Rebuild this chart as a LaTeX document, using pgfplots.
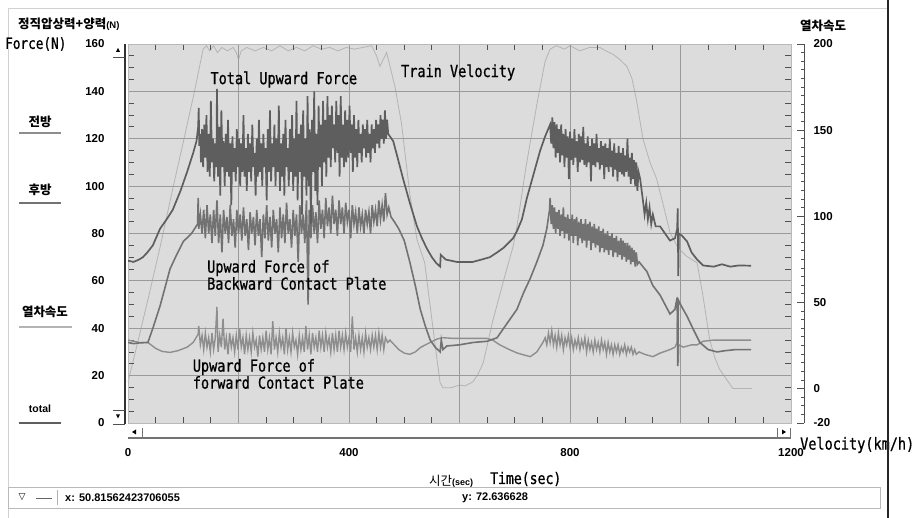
\documentclass[border=0pt]{standalone}
\usepackage{pgfplots}
\pgfplotsset{compat=1.18}
\usepackage{fontspec}
\setmainfont{Liberation Sans}
\newfontfamily\kr{Noto Sans CJK KR}
\newfontfamily\mono[FakeStretch=0.82,FakeBold=0.8]{DejaVu Sans Mono}
\newfontfamily\djsans{DejaVu Sans}
\definecolor{plotbg}{HTML}{DCDCDC}
\definecolor{gridc}{HTML}{9A9A9A}
\definecolor{totc}{HTML}{5E5E5E}
\definecolor{backc}{HTML}{727272}
\definecolor{forc}{HTML}{8E8E8E}
\definecolor{velc}{HTML}{B4B4B4}
\definecolor{tickc}{HTML}{505050}
\newcommand{\annfont}{\mono\fontsize{16.5}{15}\selectfont}
\newcommand{\tlfont}{\bfseries\fontsize{11.5}{12}\selectfont}
\begin{document}
\begin{tikzpicture}[x=1pt,y=1pt]
\useasboundingbox (0,0) rectangle (914,518);
% outer frame
\draw[gray!35, line width=0.8] (8,0) -- (8,510) -- (888,510);
% plot background
\fill[plotbg] (128,95) rectangle (791,474);
% velocity axis (right)
\begin{axis}[at={(128pt,95pt)}, anchor=south west, scale only axis,
  width=676pt, height=379pt,
  xmin=0, xmax=1223.5, ymin=-20, ymax=200,
  axis x line=none, axis y line*=right,
  y axis line style={draw=tickc, line width=0.7pt},
  ytick={-20,0,50,100,150,200},
  yticklabels={-20,0,50,100,150,200},
  minor ytick={-15,-10,-5,5,10,15,20,25,30,35,40,45,55,60,65,70,75,80,85,90,95,105,110,115,120,125,130,135,140,145,155,160,165,170,175,180,185,190,195},
  tick align=inside, major tick length=7pt, minor tick length=3pt,
  tick style={draw=tickc, line width=0.8pt},
  yticklabel style={font=\tlfont, xshift=6pt},
  clip=false]
\addplot[velc, line width=0.8pt] coordinates {
(0,4)(4,9)(20,30)(40,57)(58,82)(81,116)(100,143)(120,172)(136,197)(142,199)(148,196)(155,199)(162,195)(170,198)(180,196)(190,198)(196,195)(200,191)(205,196)(215,198)(230,196)(245,198)(260,196)(275,199)(290,196)(305,198)(320,196)(335,199)(350,197)(365,198)(380,196)(395,198)(410,197)(425,198)(441,199)(450,193)(456,187)(462,191)(468,195)(472,190)(478,182)(483,175.5)(495,154)(510,113)(523,86.5)(537,73)(550,40)(560,15)(565,3.3)(570,0.4)(585,0.5)(600,2)(610,1.5)(624,3.8)(633,8)(643,15)(660,39)(680,63)(697,82.5)(704,94)(720,128)(740,165)(755,190)(764,197)(775,199)(790,197)(800,199)(818,196)(835,198)(854,198)(865,196)(878,194)(890,191)(903,187)(912,180)(920,168)(932,145)(945,131)(957,121.5)(970,105)(981,90.5)(995,82)(1010,77)(1030,73)(1040,55)(1053,28)(1062,18)(1071,11)(1084,5)(1095,0)(1110,0)(1129,0)};
\end{axis}
% force axis (left)
\begin{axis}[at={(128pt,95pt)}, anchor=south west, scale only axis,
  width=663pt, height=379pt,
  xmin=0, xmax=1200, ymin=0, ymax=160,
  xtick={0,200,...,1200}, xticklabels={0,,400,,800,,1200},
  ytick={0,20,...,160}, yticklabels={0,20,40,60,80,100,120,140,160},
  minor x tick num=3, minor y tick num=3,
  grid=major, major grid style={draw=gridc, line width=0.9pt},
  tick align=inside, major tick length=0pt, minor tick length=6pt,
  minor tick style={draw=tickc, line width=0.8pt},
  axis line style={draw=gray!55, line width=0.8pt},
  ticklabel style={font=\tlfont},
  yticklabel style={xshift=-20pt},
  xticklabel style={yshift=-22pt}]
\addplot[forc, line width=1.4pt] coordinates {
(0,35)(10,34.5)(20,34)(36,34)(50,31.5)(62,30.2)(76,29.8)(90,30.5)(107,32)(118,34)(127,37.5)(128,41)
(131,33)(134,37)(137,31)(140,38)(143,32)(146,36)(149,30)(152,38)(155,31)(158,36)(161,49)(163,30)(166,37)(169,32)(172,44)(175,31)(178,36)(181,29)(184,38)(187,32)(190,36)(193,30)(196,37)(199,31)(202,40)(205,32)(208,36)(211,29)(214,37)(217,31)(220,36)(223,30)(226,38)(229,32)(232,35)(235,28)(238,37)(241,31)(244,36)(247,30)(250,39)(253,31)(256,36)(259,29)(262,43)(265,31)(268,36)(271,30)(274,38)(277,32)(280,36)(283,29)(286,40)(289,31)(292,36)(295,30)(298,38)(301,32)(304,35)(307,29)(310,37)(313,31)(316,36)(319,30)(322,41)(325,31)(328,37)(331,29)(334,38)(337,32)(340,36)(343,30)(346,39)(349,32)(352,37)(355,30)(358,38)(361,32)(364,36)(367,30)(370,38)(373,31)(376,37)(379,30)(382,39)(385,32)(388,37)(391,31)(394,38)(397,32)(400,36)(403,30)(406,45)(409,31)(412,36)(415,30)(418,37)(421,31)(424,36)(427,30)(430,38)(433,32)(436,36)(439,31)(442,37)(445,32)(448,37)(451,31)(454,38)(457,32)(460,37)(463,31)(466,36)(470,34)
(474,35)(490,31)(500,29.5)(510,29)(520,30)(530,32)(547,34)(560,35.5)(570,36)(590,35.7)(620,35.7)(650,35.7)(660,35)(673,33)(690,31)(705,29.5)(720,28.5)(728,28)(740,30)(751,34)
(755,36)(758,33)(761,38)(764,34)(767,39)(770,33)(773,37)(776,32)(779,38)(782,33)(785,37)(788,31)(791,36)(794,33)(797,37)(800,32)(803,36)(806,31)(809,35)(812,32)(815,36)(818,31)(821,35)(824,32)(827,36)(830,30)(833,35)(836,31)(839,34)(842,30)(845,35)(848,31)(851,34)(854,30)(857,35)(860,31)(863,34)(866,29)(869,34)(872,30)(875,33)(878,29)(881,33)(884,30)(887,33)(890,29)(893,32)(896,30)(899,33)(902,29)(905,32)(908,30)(911,32)(914,29)(917,31)(920,29)(925,30)
(935,29)(950,28)(963,29.5)(981,31)(990,32)(994,34)(995,52)(996,25.5)(997,33)(1005,32)(1020,33)(1030,33)(1041,34.5)(1060,35)(1090,35)(1128,35)};
\addplot[backc, line width=1.6pt] coordinates {
(0,34)(10,33.5)(20,33.8)(36,34)(45,40)(58,49.4)(68,58)(76,65)(88,71)(100,76.6)(115,80)(126,84)(127,95)(128,82)
(131,88)(134,80)(137,90)(140,78)(143,92)(146,80)(149,88)(152,76)(155,90)(158,79)(161,94)(164,76)(167,88)(170,72)(173,90)(176,80)(179,87)(182,76)(185,92)(188,79)(191,86)(194,74)(197,90)(200,80)(203,88)(206,77)(209,91)(212,79)(215,86)(218,73)(221,89)(224,80)(227,87)(230,75)(233,90)(236,79)(239,86)(242,70)(245,88)(248,78)(251,92)(254,77)(257,87)(260,74)(263,90)(266,80)(269,86)(272,72)(275,91)(278,78)(281,88)(284,76)(287,93)(290,80)(293,86)(296,74)(299,90)(302,79)(305,88)(308,68)(311,92)(314,80)(317,88)(320,76)(323,94)(326,50)(328,90)(331,78)(334,92)(337,80)(340,89)(343,76)(346,94)(349,82)(352,90)(355,78)(358,95)(361,83)(364,91)(367,80)(370,96)(373,84)(376,90)(379,79)(382,94)(385,84)(388,91)(391,80)(394,93)(397,85)(400,90)(403,78)(406,92)(409,84)(412,89)(415,80)(418,91)(421,83)(424,88)(427,80)(430,90)(433,84)(436,89)(439,80)(442,92)(445,85)(448,90)(451,83)(454,94)(457,86)(460,92)(463,85)(466,97)(469,88)(472,91)
(476,87)(482,85)(490,82)(500,77)(510,68)(520,58)(529,48)(538,41)(547,35)(556,32)(565,30)(567,35)(570,31)(577,32.5)(600,33)(625,34)(650,34.5)(668,36)(686,42)(704,48)(716,55)(728,61)(740,68)(751,75)(758,82)(763,90)(764,95)
(766,84)(768,92)(770,82)(772,91)(774,80)(776,89)(778,82)(780,90)(782,79)(784,88)(786,81)(788,91)(790,78)(792,87)(794,80)(796,88)(798,77)(800,86)(802,79)(804,88)(806,76)(808,86)(810,79)(812,87)(814,75)(816,85)(818,78)(820,86)(822,76)(824,84)(826,77)(828,86)(830,74)(832,84)(834,77)(836,85)(838,73)(840,83)(842,76)(844,84)(846,74)(848,82)(850,75)(852,83)(854,72)(856,81)(858,74)(860,82)(862,72)(864,80)(866,73)(868,81)(870,71)(872,79)(874,73)(876,80)(878,70)(880,78)(882,72)(884,79)(886,70)(888,77)(890,71)(892,78)(894,69)(896,77)(898,70)(900,76)(902,68)(904,76)(906,69)(908,75)(910,67)(912,74)(914,68)(916,73)(918,66)(920,72)(922,67)(925,68)
(939,64)(950,58)(963,54)(972,50)(981,46)(990,48)(994,53)(995,24)(996,52)(1000,50)(1012,45)(1023,39.6)(1035,34)(1050,31)(1066,30)(1080,30.5)(1100,31)(1128,31)};
\addplot[totc, line width=1.7pt] coordinates {
(0,68.5)(10,68)(20,69)(27,70)(35,72)(45,75)(58,82)(70,86)(81,90)(95,98)(107,106)(118,114)(124,119)(127,125)(128,133)(129,117)(131,122)
(132,110)(134,124)(136,108)(138,126)(140,112)(142,130)(144,106)(146,122)(148,104)(150,136)(152,110)(154,120)(156,102)(158,118)(160,108)(161,141)(163,104)(165,125)(167,96)(169,132)(171,108)(173,119)(175,100)(177,122)(179,106)(181,128)(183,104)(185,118)(187,92)(189,121)(191,106)(193,116)(195,102)(197,124)(199,108)(201,120)(203,100)(205,118)(207,106)(209,130)(211,104)(213,116)(215,98)(217,122)(219,106)(221,118)(223,102)(225,126)(227,108)(229,114)(231,96)(233,120)(235,104)(237,128)(239,106)(241,118)(243,100)(245,122)(247,108)(249,116)(251,94)(253,124)(255,106)(257,132)(259,102)(261,118)(263,108)(265,126)(267,100)(269,120)(271,106)(273,134)(275,98)(277,118)(279,104)(281,122)(283,96)(285,128)(287,108)(289,116)(291,100)(293,124)(295,106)(297,130)(299,98)(301,120)(303,104)(305,136)(307,94)(309,122)(311,106)(313,126)(315,88)(317,132)(319,104)(321,120)(323,96)(325,138)(327,100)(329,124)(331,84)(333,128)(335,106)(337,140)(339,98)(341,122)(343,92)(345,134)(347,108)(349,126)(351,100)(353,136)(355,110)(357,128)(359,104)(361,138)(363,112)(365,130)(367,108)(369,134)(371,116)(373,126)(375,110)(377,136)(379,114)(381,130)(383,104)(385,138)(387,112)(389,126)(391,108)(393,132)(395,110)(397,128)(399,112)(401,134)(403,114)(405,126)(407,106)(409,130)(411,112)(413,124)(415,108)(417,128)(419,114)(421,122)(423,110)(425,126)(427,116)(429,124)(431,112)(433,128)(435,114)(437,122)(439,110)(441,126)(443,116)(445,124)(447,114)(449,128)(451,118)(453,126)(455,116)(457,130)(459,120)(461,128)(463,118)(465,132)(467,120)(469,128)(471,122)
(474,121)(480,119)(488,112)(498,103)(510,93)(523,83)(532,78)(541,73.6)(550,70)(558,67.5)(565,66)(566,71)(575,69)(595,68)(610,68)(624,68)(640,69)(655,70)(668,72)(680,74)(697,78)(704,81)(713,86)(722,95)(734,105)(746,115)(755,121)(764,126)
(766,118)(768,129)(770,116)(772,127)(774,112)(776,126)(778,114)(780,124)(782,110)(784,126)(786,113)(788,122)(790,108)(792,124)(794,112)(796,121)(798,103)(800,123)(802,111)(804,120)(806,109)(808,124)(810,112)(812,119)(814,106)(816,122)(818,110)(820,121)(822,111)(824,125)(826,109)(828,118)(830,108)(832,121)(834,110)(836,117)(838,102)(840,120)(842,109)(844,118)(846,108)(848,122)(850,110)(852,116)(854,107)(856,119)(858,109)(860,117)(862,103)(864,118)(866,108)(868,116)(870,106)(872,120)(874,108)(876,115)(878,104)(880,118)(882,107)(884,114)(886,102)(888,117)(890,106)(892,114)(894,105)(896,116)(898,104)(900,113)(902,106)(904,120)(906,104)(908,112)(910,101)(912,114)(914,103)(916,111)(918,100)(920,110)(922,98)(924,106)(927,103)
(932,94)(935,88)(938,93)(941,86)(944,91)(947,84)(950,88)(955,83)(963,83)(972,80)(981,77)(990,78)(994,82)(995,90.6)(996,62)(997,80)(1003,79)(1012,76.6)(1020,72)(1030,69)(1041,66.5)(1060,66)(1075,67)(1090,66)(1105,66.5)(1128,66.4)};
\node[anchor=west, font=\annfont] at (axis cs:143,145) {Total Upward Force};
\node[anchor=west, font=\annfont] at (axis cs:488,148) {Train Velocity};
\node[anchor=west, align=left, font=\annfont, inner sep=0pt] at (axis cs:143,62.5) {Upward Force of\\Backward Contact Plate};
\node[anchor=west, align=left, font=\annfont, inner sep=0pt] at (axis cs:117,20.7) {Upward Force of\\forward Contact Plate};
\end{axis}
% left edge / vertical scrollbar
\draw[black!80, line width=1.2] (125,94) -- (125,474);
\draw[tickc, line width=0.8] (113,461) -- (125,461);
\draw[tickc, line width=0.8] (113,108) -- (125,108);
\draw[tickc, line width=0.8] (113,94) -- (125,94);
\fill[black] (116,466) -- (120,466) -- (118,470) -- cycle;
\fill[black] (116,103.5) -- (120,103.5) -- (118,99.5) -- cycle;
% horizontal scrollbar
\draw[black!55, line width=1.2] (128,80) -- (791,80);
\draw[black!55, line width=0.8] (142,80) -- (142,90);
\draw[black!55, line width=0.8] (777,80) -- (777,90);
\draw[black!55, line width=0.8] (790,80) -- (790,90);
\fill[black] (132,86) -- (136,88.5) -- (136,83.5) -- cycle;
\fill[black] (786,86) -- (782,88.5) -- (782,83.5) -- cycle;
% titles
\node[anchor=west, inner sep=0pt] at (18,494) {{\kr\bfseries\fontsize{12.5}{13}\selectfont 정직압상력+양력}{\bfseries\fontsize{9.5}{10}\selectfont(N)}};
\node[anchor=west, inner sep=0pt, font=\mono\fontsize{15.5}{16}\selectfont] at (5,474) {Force(N)};
\node[anchor=center, inner sep=0pt] at (823,492) {\kr\bfseries\fontsize{12.5}{13}\selectfont 열차속도};
\node[anchor=west, inner sep=0pt, font=\annfont] at (800,73) {Velocity(km/h)};
\node[anchor=base west, inner sep=0pt] at (429,32) {{\kr\fontsize{12.5}{13}\selectfont 시간}{\bfseries\fontsize{9}{10}\selectfont(sec)}};
\node[anchor=base west, inner sep=0pt, font=\mono\fontsize{16}{16}\selectfont] at (490,34) {Time(sec)};
% left legend
\node[inner sep=0pt] at (40,396) {\kr\bfseries\fontsize{12.5}{13}\selectfont 전방};
\draw[forc, line width=1.2] (19,385) -- (61,385);
\node[inner sep=0pt] at (40,328) {\kr\bfseries\fontsize{12.5}{13}\selectfont 후방};
\draw[backc, line width=1.2] (19,315) -- (61,315);
\node[inner sep=0pt] at (45,206) {\kr\bfseries\fontsize{12.5}{13}\selectfont 열차속도};
\draw[velc, line width=1.2] (19,191) -- (72,191);
\node[inner sep=0pt] at (40,109) {\bfseries\fontsize{10.5}{11}\selectfont total};
\draw[totc, line width=1.2] (19,95) -- (61,95);
% status bar
\draw[gray!55, line width=0.8] (8,10) rectangle (880,31);
\node[inner sep=0pt] at (22,20.5) {\djsans\fontsize{9}{10}\selectfont ▽};
\draw[black!60, line width=1] (36,19) -- (52,19);
\draw[gray!60, line width=0.6] (57,13) -- (57,28);
\node[anchor=west, inner sep=0pt] at (65,20.5) {\bfseries\fontsize{11}{12}\selectfont x: 50.81562423706055};
\node[anchor=west, inner sep=0pt] at (462,20.5) {\bfseries\fontsize{11}{12}\selectfont y: 72.636628};
% right border
\draw[black!85, line width=1.8] (888,0) -- (888,518);
\end{tikzpicture}
\end{document}
